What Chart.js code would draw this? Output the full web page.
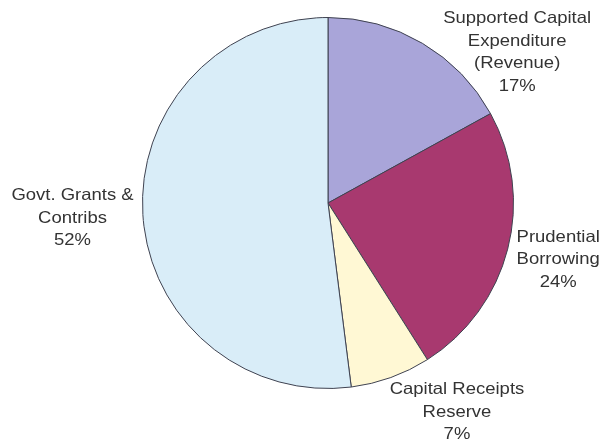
<!DOCTYPE html>
<html>
<head>
<meta charset="utf-8">
<script src="https://cdn.jsdelivr.net/npm/chart.js@4/dist/chart.umd.min.js"></script>
<style>
  html, body { margin: 0; padding: 0; background: #fff; }
  #c { display: block; }
</style>
</head>
<body>
<canvas id="c" width="604" height="439"></canvas>
<script>
// data
var labels = ['Supported Capital Expenditure (Revenue)', 'Prudential Borrowing', 'Capital Receipts Reserve', 'Govt. Grants & Contribs'];
var labelLines = [
  ['Supported Capital', 'Expenditure', '(Revenue)'],
  ['Prudential', 'Borrowing'],
  ['Capital Receipts', 'Reserve'],
  ['Govt. Grants &', 'Contribs']
];
var values = [17, 24, 7, 52];
var colors = ['#a9a5d9', '#a8396f', '#fff8d4', '#d9edf8'];

// where each label sits: distance from centre (in radii) along the slice middle, plus a nudge
var labelPos = [
  { r: 1.05, dx: 90, dy: 17 },
  { r: 1.27, dx: 2, dy: -2 },
  { r: 1.05, dx: 63, dy: 26 },
  { r: 1.38, dx: 0, dy: -1 }
];

var outerLabels = {
  id: 'outerLabels',
  afterDatasetsDraw: function(chart) {
    var ctx = chart.ctx;
    var meta = chart.getDatasetMeta(0);
    var total = values.reduce(function(a, b) { return a + b; }, 0);
    ctx.save();
    ctx.font = '16.5px "Liberation Sans", Arial, sans-serif';
    ctx.fillStyle = '#333333';
    ctx.textAlign = 'center';
    ctx.textBaseline = 'middle';
    meta.data.forEach(function(arc, i) {
      var p = arc.getProps(['x', 'y', 'startAngle', 'endAngle', 'outerRadius'], true);
      var mid = (p.startAngle + p.endAngle) / 2;
      var d = p.outerRadius * labelPos[i].r;
      var cx = p.x + Math.cos(mid) * d + labelPos[i].dx;
      var cy = p.y + Math.sin(mid) * d + labelPos[i].dy;
      var lines = labelLines[i].concat([Math.round(values[i] / total * 100) + '%']);
      var lh = 22.6;
      var top = cy - (lines.length - 1) * lh / 2;
      lines.forEach(function(t, k) {
        // the original text is a little wider than Arial
        ctx.save();
        ctx.translate(cx, top + k * lh);
        ctx.scale(1.12, 1);
        ctx.fillText(t, 0, 0);
        ctx.restore();
      });
    });
    ctx.restore();
  }
};

var ctx = document.getElementById('c');
var chart = new Chart(ctx, {
  type: 'pie',
  data: {
    labels: labels,
    datasets: [{
      data: values,
      backgroundColor: colors,
      borderColor: '#3f4250',
      borderWidth: 1
    }]
  },
  options: {
    responsive: false,
    animation: false,
    layout: { padding: { top: 17, bottom: 50, left: 142, right: 90 } },
    plugins: {
      legend: { display: false },
      tooltip: { enabled: false }
    }
  },
  plugins: [outerLabels]
});
</script>
</body>
</html>
